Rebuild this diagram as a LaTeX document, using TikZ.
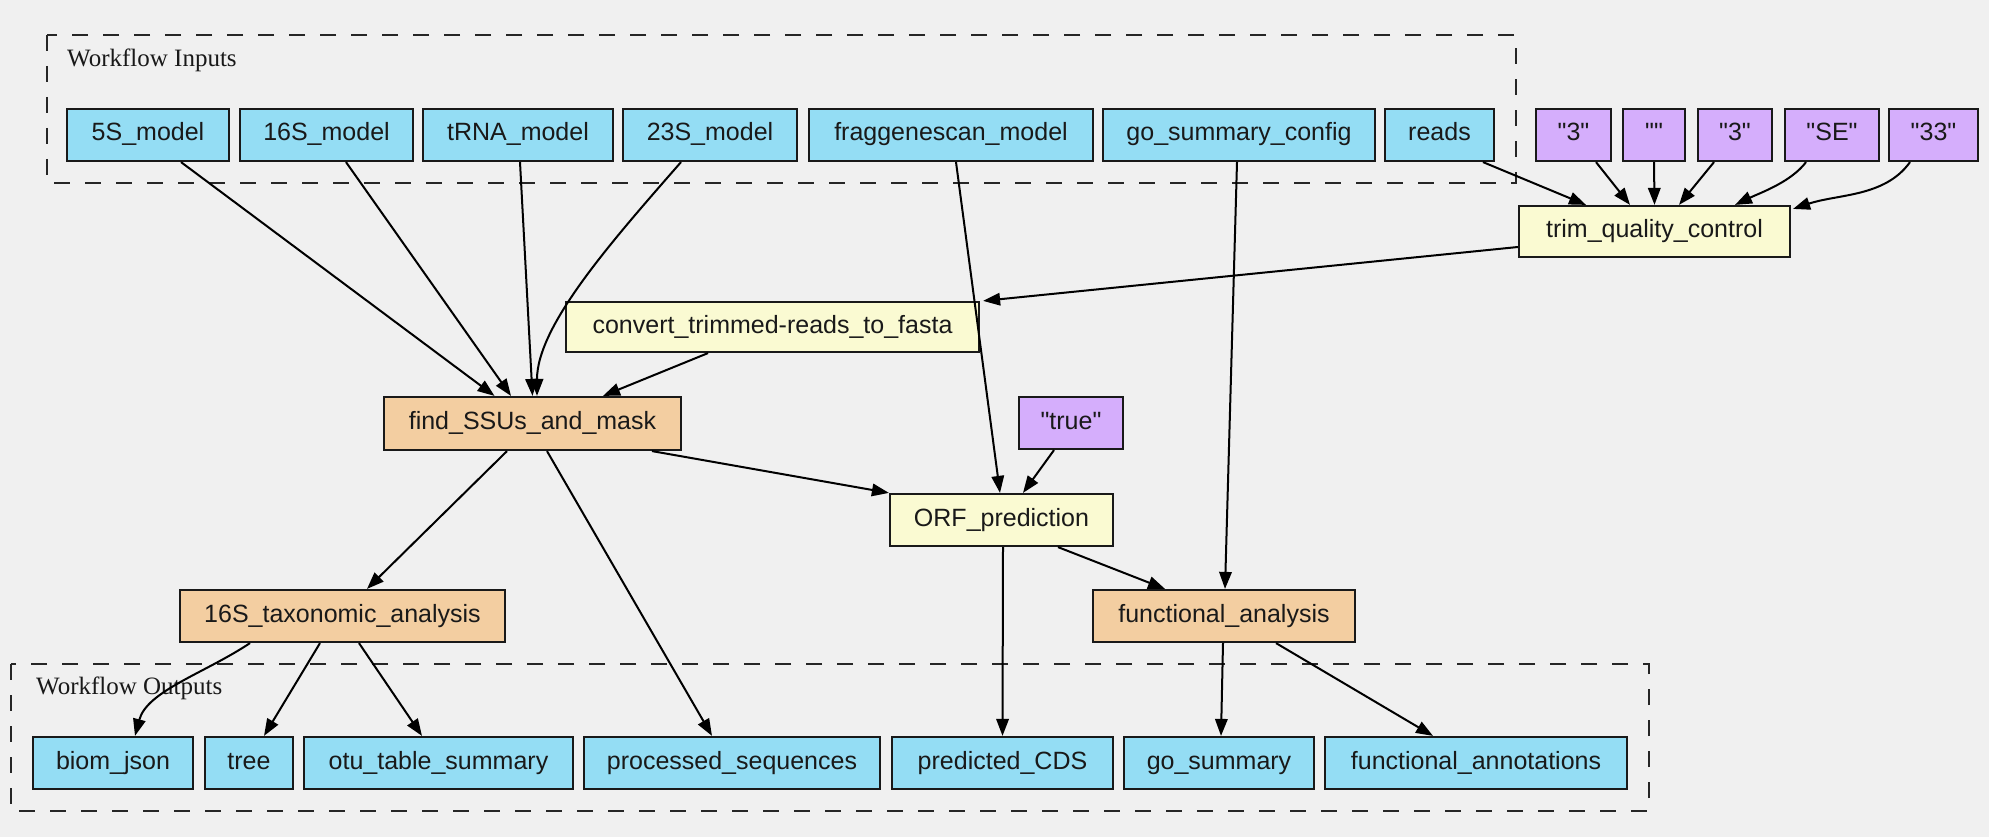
\documentclass[tikz,border=0pt]{standalone}
\usepackage{fontspec}
\setmainfont{Liberation Sans}[Ligatures=TeXOff]
\newfontfamily\seriffont{Liberation Serif}[Ligatures=TeXOff]
\usetikzlibrary{arrows.meta,calc}
\definecolor{bgc}{RGB}{240,240,240}
\definecolor{ioblue}{HTML}{94DDF4}
\definecolor{steporange}{HTML}{F3CEA1}
\definecolor{stepyellow}{HTML}{FAFAD2}
\definecolor{constpurple}{HTML}{D5AEFC}
\begin{document}
\begin{tikzpicture}[x=1pt,y=-1pt,
  box/.style={draw=black!90, line width=2.2pt, inner sep=0pt, minimum height=52pt,
    text height=18pt, text depth=6pt,
    font=\fontsize{25}{30}\selectfont, text=black!90},
  io/.style={box, fill=ioblue},
  wf/.style={box, fill=steporange},
  tool/.style={box, fill=stepyellow},
  const/.style={box, fill=constpurple},
  cluster/.style={draw=black!85, line width=2.6pt, dash pattern=on 16pt off 15pt},
  clabel/.style={anchor=west, inner sep=0pt, font=\seriffont\fontsize{25}{30}\selectfont, text=black!90},
  edge/.style={line width=2pt, draw=black, -{Triangle[length=17pt,width=12.5pt]}},
]
\fill[bgc] (0,0) rectangle (1989,837);
\useasboundingbox (0,0) rectangle (1989,837);

% clusters
\draw[cluster] (47,35) rectangle (1516,183);
\node[clabel] (inlbl) at (67,60) {Workflow Inputs};
\draw[cluster] (11,664) rectangle (1649,811);
\node[clabel] (outlbl) at (36,688) {Workflow Outputs};

% inputs
\node[io, minimum width=162pt] (s5) at (148,135) {5S\_model};
\node[io, minimum width=173pt] (s16) at (326.5,135) {16S\_model};
\node[io, minimum width=190pt] (trna) at (518,135) {tRNA\_model};
\node[io, minimum width=174pt] (s23) at (710,135) {23S\_model};
\node[io, minimum width=284pt] (fgs) at (951,135) {fraggenescan\_model};
\node[io, minimum width=272pt] (gsc) at (1239,135) {go\_summary\_config};
\node[io, minimum width=109pt] (reads) at (1439.5,135) {reads};
\node[const, minimum width=75pt] (q1) at (1573.5,135) {"3"};
\node[const, minimum width=62pt] (q2) at (1654,135) {""};
\node[const, minimum width=74pt] (q3) at (1735,135) {"3"};
\node[const, minimum width=94pt] (q4) at (1832,135) {"SE"};
\node[const, minimum width=89pt] (q5) at (1933.5,135) {"33"};

% steps
\node[tool, minimum width=271pt, minimum height=51pt] (trim) at (1654.5,231.5) {trim\_quality\_control};
\node[tool, minimum width=413pt, minimum height=50pt] (conv) at (772.5,327) {convert\_trimmed-reads\_to\_fasta};
\node[wf, minimum width=297pt, minimum height=53pt] (find) at (532.5,423.5) {find\_SSUs\_and\_mask};
\node[const, minimum width=104pt] (true) at (1071,423) {"true"};
\node[tool, minimum width=223pt] (orf) at (1001.5,520) {ORF\_prediction};
\node[wf, minimum width=325pt] (tax) at (342.5,616) {16S\_taxonomic\_analysis};
\node[wf, minimum width=262pt] (func) at (1224,616) {functional\_analysis};

% outputs
\node[io, minimum width=160pt] (biom) at (113,763) {biom\_json};
\node[io, minimum width=88pt] (tree) at (249,763) {tree};
\node[io, minimum width=269pt] (otu) at (438.5,763) {otu\_table\_summary};
\node[io, minimum width=296pt] (proc) at (732,763) {processed\_sequences};
\node[io, minimum width=221pt] (pred) at (1002.5,763) {predicted\_CDS};
\node[io, minimum width=190pt] (gosum) at (1219,763) {go\_summary};
\node[io, minimum width=302pt] (fann) at (1476,763) {functional\_annotations};

% edges
\draw[edge] ([xshift=33pt]s5.south) -- ([xshift=-38pt]find.north);
\draw[edge] ([xshift=19.5pt]s16.south) -- ([xshift=-21.5pt]find.north);
\draw[edge] ([xshift=2pt]trna.south) -- (find.north);
\draw[edge] ([xshift=-29pt]s23.south) .. controls +(-70,80) and +(0,-70) .. ([xshift=4.5pt]find.north);
\draw[edge] ([xshift=-64.5pt]conv.south) -- ([xshift=70.5pt]find.north);
\draw[edge] ([yshift=-15.5pt]trim.west) -- ([xshift=3pt]conv.north east);
\draw[edge] ([xshift=5pt]fgs.south) -- ([xshift=-1.5pt]orf.north);
\draw[edge] ([xshift=-17pt]true.south) -- ([xshift=21.5pt]orf.north);
\draw[edge] ([xshift=119.5pt]find.south) -- (orf.north west);
\draw[edge] ([xshift=-2pt]gsc.south) -- ([xshift=1pt]func.north);
\draw[edge] ([xshift=-25.5pt]find.south) -- ([xshift=24.5pt]tax.north);
\draw[edge] ([xshift=14.5pt]find.south) -- ([xshift=-20pt]proc.north);
\draw[edge] ([xshift=1.5pt]orf.south) -- (pred.north);
\draw[edge] ([xshift=56.5pt]orf.south) -- ([xshift=-59pt]func.north);
\draw[edge] ([xshift=-92.5pt]tax.south) .. controls +(-45,30) and +(12,-45) .. ([xshift=22pt]biom.north);
\draw[edge] ([xshift=-22.5pt]tax.south) -- ([xshift=15pt]tree.north);
\draw[edge] ([xshift=16.5pt]tax.south) -- ([xshift=-16.5pt]otu.north);
\draw[edge] ([xshift=-1pt]func.south) -- ([xshift=2pt]gosum.north);
\draw[edge] ([xshift=52pt]func.south) -- ([xshift=-43pt]fann.north);
\draw[edge] ([xshift=43.5pt]reads.south) -- ([xshift=-68.5pt]trim.north);
\draw[edge] ([xshift=22.5pt]q1.south) -- ([xshift=-24.5pt]trim.north);
\draw[edge] (q2.south) -- (trim.north);
\draw[edge] ([xshift=-21pt]q3.south) -- ([xshift=24.5pt]trim.north);
\draw[edge] ([xshift=-26pt]q4.south) .. controls +(-15,20) and +(25,-12) .. ([xshift=80.5pt]trim.north);
\draw[edge] ([xshift=-23.5pt]q5.south) .. controls +(-25,35) and +(45,-15) .. ([xshift=2pt,yshift=-4pt]trim.north east);
\end{tikzpicture}
\end{document}
